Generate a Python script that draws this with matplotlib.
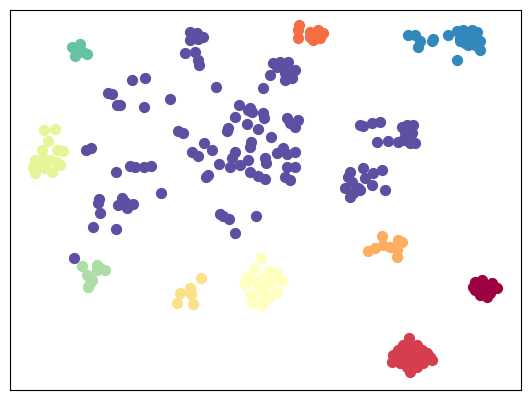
import matplotlib
matplotlib.use("Agg")
import matplotlib.pyplot as plt
import numpy as np

# Cluster colours (Spectral, 11 classes)
colors = ['#9e0142', '#d53e4f', '#f46d43', '#fdae61', '#fee08b', '#ffffbf',
          '#e6f598', '#abdda4', '#66c2a5', '#3288bd', '#5e4fa2']

# Cluster point coordinates (x, y) – y grows downward
c0_x = [475, 482, 488, 495, 497, 487, 475, 482, 490, 473, 480, 492, 485]
c0_y = [282, 280, 285, 287, 288, 297, 290, 290, 293, 287, 295, 283, 288]

c1_x = [409, 393, 392, 430, 432, 410, 403, 417, 422, 398, 400, 407, 417, 423, 413, 405, 427, 420, 397,
        410, 410, 415, 403, 407, 418, 412]
c1_y = [338, 355, 362, 357, 360, 372, 345, 345, 350, 350, 363, 367, 367, 363, 357, 357, 353, 360, 358,
        350, 360, 352, 352, 345, 355, 365]

c2_x = [299, 298, 298, 310, 315, 318, 323, 313, 320, 310]
c2_y = [25, 30, 38, 32, 35, 30, 33, 40, 38, 37]

c3_x = [382, 383, 368, 375, 398, 402, 397, 397, 390]
c3_y = [236, 245, 251, 248, 240, 242, 250, 257, 247]

c4_x = [201, 180, 177, 190, 191, 193]
c4_y = [278, 293, 303, 288, 294, 304]

c5_x = [261, 254, 246, 245, 269, 277, 282, 264, 272, 255, 265, 277, 259, 250, 269, 262, 252, 262, 270]
c5_y = [258, 269, 277, 284, 271, 273, 281, 277, 278, 281, 287, 292, 288, 295, 297, 295, 303, 305, 283]

c6_x = [44, 55, 48, 42, 57, 63, 35, 43, 50, 33, 40, 57, 60, 35, 52, 45]
c6_y = [130, 129, 141, 150, 150, 151, 160, 158, 160, 167, 167, 162, 165, 173, 172, 168]

c7_x = [82, 87, 90, 88, 97, 100, 105, 97, 92]
c7_y = [266, 275, 283, 287, 265, 268, 270, 270, 280]

c8_x = [72, 80, 75, 87, 83, 77]
c8_y = [47, 44, 56, 54, 52, 50]

c9_x = [408, 415, 420, 418, 433, 432, 448, 457, 463, 472, 477, 460, 467, 473, 480, 468, 475, 480, 465, 460, 457]
c9_y = [35, 35, 41, 47, 39, 41, 35, 31, 30, 30, 32, 38, 36, 38, 41, 45, 45, 50, 43, 41, 60]

c10_x = [132, 145, 108, 112, 117, 120, 144, 170, 178, 183, 86, 91, 130, 135, 144, 151, 116, 161,
         99, 98, 122, 125, 118, 127, 133, 100, 93, 116, 74,
         190, 197, 203, 190, 198, 185, 195, 198, 199,
         273, 280, 288, 295, 285, 292, 285, 270, 263, 277, 283, 287,
         216,
         239, 248, 252, 250, 263, 264, 235, 247, 228, 227, 258, 287, 298, 290, 295, 271, 251, 250,
         204, 212, 192, 198, 235, 232, 230, 240, 248, 219, 265, 266, 277, 283, 287, 295, 250, 258,
         265, 287, 295, 285, 290, 208, 206,
         220, 223, 229, 235, 256,
         360, 363, 372, 380, 377, 388, 402, 407, 413, 405, 412, 403, 398, 410, 415, 407,
         350, 348, 363, 373, 382, 365, 352, 345, 353, 360, 358, 372, 385, 350]
c10_y = [80, 78, 93, 94, 105, 105, 107, 99, 131, 133, 150, 148, 166, 167, 167, 166, 172, 193,
         199, 203, 198, 202, 205, 208, 204, 213, 227, 229, 258,
         32, 33, 37, 40, 39, 53, 52, 60, 65,
         63, 62, 62, 70, 73, 78, 80, 75, 88, 67, 67, 70,
         87,
         105, 110, 112, 108, 113, 118, 117, 124, 128, 131, 129, 118, 120, 123, 127, 137, 142, 147,
         143, 150, 152, 156, 152, 158, 167, 165, 160, 164, 158, 163, 153, 148, 154, 152, 172, 176,
         179, 167, 167, 177, 180, 175, 177,
         214, 216, 219, 233, 216,
         125, 126, 123, 122, 142, 141, 127, 125, 125, 133, 133, 140, 142, 143, 143, 138,
         172, 177, 168, 173, 170, 178, 182, 188, 193, 190, 188, 185, 190, 197]

clusters = [(c0_x, c0_y), (c1_x, c1_y), (c2_x, c2_y), (c3_x, c3_y), (c4_x, c4_y),
            (c5_x, c5_y), (c6_x, c6_y), (c7_x, c7_y), (c8_x, c8_y), (c9_x, c9_y),
            (c10_x, c10_y)]

fig = plt.figure(figsize=(5.31, 4.01), dpi=100)
ax = fig.add_axes([10 / 531, 11 / 401, 511 / 531, 380 / 401])

for (xs, ys), col in zip(clusters, colors):
    ax.scatter(xs, ys, s=50, c=col)

ax.set_xlim(10, 521)
ax.set_ylim(390, 10)
ax.set_xticks([])
ax.set_yticks([])

fig.savefig("out.png", dpi=100)
